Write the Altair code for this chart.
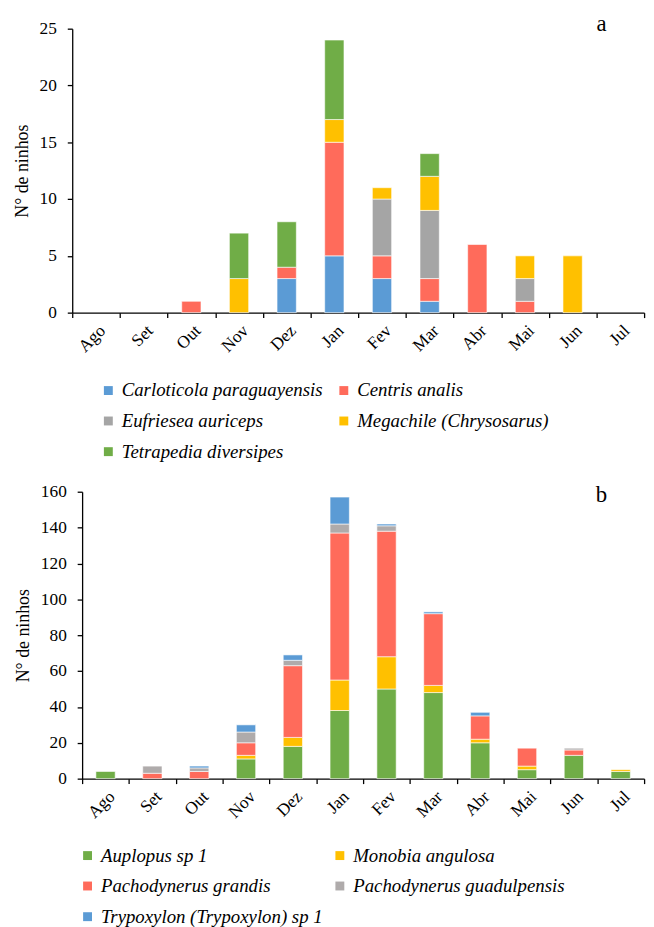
import altair as alt
import pandas as pd

months = ["Ago", "Set", "Out", "Nov", "Dez", "Jan", "Fev", "Mar", "Abr", "Mai", "Jun", "Jul"]

# Panel a (bees)
species_a = ["Carloticola paraguayensis", "Centris analis", "Eufriesea auriceps",
             "Megachile (Chrysosarus)", "Tetrapedia diversipes"]
colors_a = ["#5B9BD5", "#FF6B5B", "#A5A5A5", "#FFC000", "#70AD47"]
carloticola = [0, 0, 0, 0, 3, 5, 3, 1, 0, 0, 0, 0]
centris = [0, 0, 1, 0, 1, 10, 2, 2, 6, 1, 0, 0]
eufriesea = [0, 0, 0, 0, 0, 0, 5, 6, 0, 2, 0, 0]
megachile = [0, 0, 0, 3, 0, 2, 1, 3, 0, 2, 5, 0]
tetrapedia = [0, 0, 0, 4, 4, 7, 0, 2, 0, 0, 0, 0]

# Panel b (wasps)
species_b = ["Auplopus sp 1", "Monobia angulosa", "Pachodynerus grandis",
             "Pachodynerus guadulpensis", "Trypoxylon (Trypoxylon) sp 1"]
colors_b = ["#70AD47", "#FFC000", "#FF6B5B", "#AFABAB", "#5B9BD5"]
auplopus = [4, 0, 0, 11, 18, 38, 50, 48, 20, 5, 13, 4]
monobia = [0, 0, 0, 2, 5, 17, 18, 4, 2, 2, 0, 1]
grandis = [0, 3, 4, 7, 40, 82, 70, 40, 13, 10, 3, 0]
guadulpensis = [0, 4, 2, 6, 3, 5, 3, 0, 0, 0, 1, 0]
trypoxylon = [0, 0, 1, 4, 3, 15, 1, 1, 2, 0, 0, 0]

FONT = "Liberation Serif"


def long_df(species, series):
    rows = []
    for i, (sp, vals) in enumerate(zip(species, series)):
        for m, v in zip(months, vals):
            rows.append({"mes": m, "species": sp, "n": v, "ord": i})
    return pd.DataFrame(rows)


df_a = long_df(species_a, [carloticola, centris, eufriesea, megachile, tetrapedia])
df_b = long_df(species_b, [auplopus, monobia, grandis, guadulpensis, trypoxylon])


def panel(df, species, colors, ymax, ystep, width, rng_end, height, letter,
          legx, legy, colpad, tpad, shift, lety):
    xax = alt.Axis(labelAngle=-45, tickBand="extent", title=None, labelFontSize=17.5,
                   labelFont=FONT, labelColor="#000", domainColor="#000", tickColor="#000",
                   tickSize=5, labelPadding=4, domainWidth=1.3, tickWidth=1.3)
    yax = alt.Axis(values=list(range(0, ymax + 1, ystep)), grid=False, title="N° de ninhos",
                   titleFont=FONT, titleFontSize=18, titleFontWeight="normal", titleColor="#000",
                   titlePadding=tpad, labelFont=FONT, labelFontSize=17.5, labelColor="#000",
                   domainColor="#000", tickColor="#000", tickSize=5, labelPadding=11,
                   domainWidth=1.3, tickWidth=1.3, offset=shift)
    bars = alt.Chart(df).transform_filter("datum.n > 0").mark_bar(
        size=19.5, stroke="white", strokeWidth=0.6
    ).encode(
        x=alt.X("mes:N", sort=months,
                scale=alt.Scale(domain=months, range=[-shift, rng_end],
                                paddingInner=0, paddingOuter=0),
                axis=xax),
        y=alt.Y("sum(n):Q", stack="zero", scale=alt.Scale(domain=[0, ymax], nice=False), axis=yax),
        color=alt.Color("species:N", scale=alt.Scale(domain=species, range=colors),
                        legend=alt.Legend(title=None, orient="none", legendX=legx, legendY=legy,
                                          direction="horizontal", columns=2, gridAlign="all",
                                          columnPadding=colpad, rowPadding=11,
                                          symbolType="square", symbolSize=81,
                                          symbolStrokeWidth=0, labelFontSize=19,
                                          labelFontStyle="italic", labelFont=FONT,
                                          labelColor="#000", labelOffset=4, padding=0,
                                          labelLimit=400)),
        order=alt.Order("ord:Q", sort="ascending"),
    )
    lab = alt.Chart(pd.DataFrame({"t": [letter]})).mark_text(
        fontSize=23, font=FONT, color="#000", align="center", baseline="alphabetic"
    ).encode(x=alt.value(525), y=alt.value(lety), text="t:N")
    return alt.layer(bars, lab).properties(width=width, height=height)


pa = panel(df_a, species_a, colors_a, 25, 5, 568, 568, 287, "a", 17, 356, 11, 8, 10, 2)
pb = panel(df_b, species_b, colors_b, 160, 20, 568, 568, 290, "b", -4, 358, 7, 8, 0, 10)

chart = alt.vconcat(pa, pb, spacing=21).resolve_scale(
    color="independent"
).resolve_legend(color="independent").properties(
    padding={"left": 13, "top": 8, "right": 0, "bottom": 0}
).configure(font=FONT).configure_view(stroke=None)

chart.save("out.html", embed_options={"renderer": "svg", "actions": False})
